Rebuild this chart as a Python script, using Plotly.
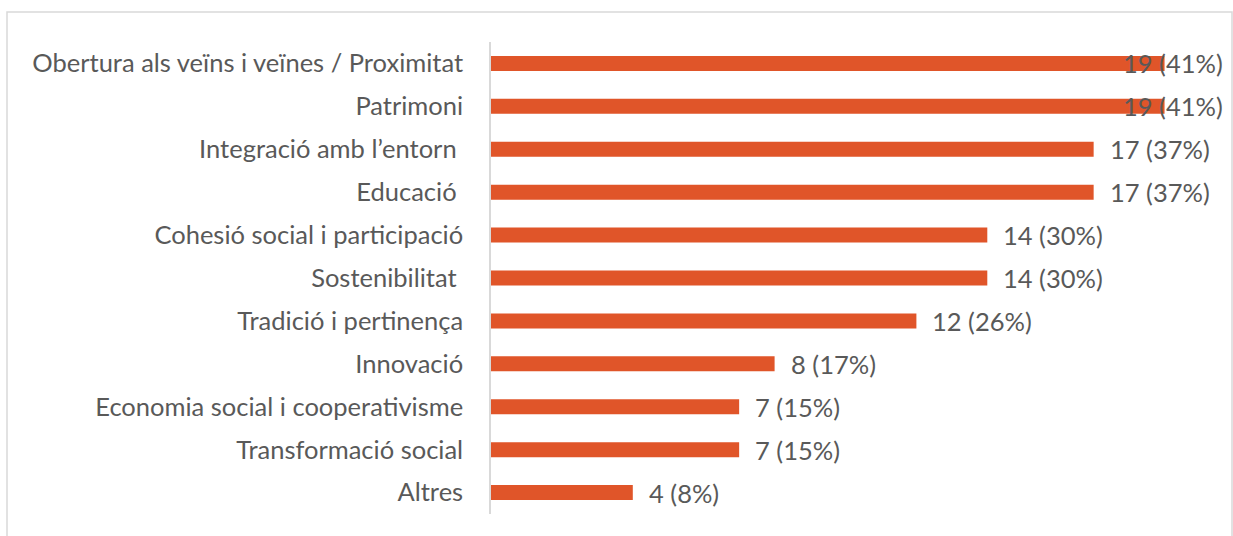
import plotly.graph_objects as go

categories = [
    "Obertura als veïns i veïnes / Proximitat",
    "Patrimoni",
    "Integració amb l’entorn ",
    "Educació ",
    "Cohesió social i participació",
    "Sostenibilitat ",
    "Tradició i pertinença",
    "Innovació",
    "Economia social i cooperativisme",
    "Transformació social",
    "Altres",
]
counts = [19, 19, 17, 17, 14, 14, 12, 8, 7, 7, 4]
percents = [41, 41, 37, 37, 30, 30, 26, 17, 15, 15, 8]

W, H = 1233, 536
L, R, T, B = 491, 33, 42, 22
pw = W - L - R
ph = H - T - B

bar_color = "#E05529"
text_color = "#595959"
font_family = "Lato, Open Sans, sans-serif"
fs = 25.5

fig = go.Figure()
fig.add_trace(go.Bar(
    x=counts,
    y=categories,
    orientation="h",
    marker=dict(color=bar_color, line=dict(width=0)),
    hoverinfo="skip",
))

max_c = max(counts)
for c, p, cat in zip(counts, percents, categories):
    label = f"{c} ({p}%)"
    if c == max_c:
        fig.add_annotation(x=c, y=cat, text=label, showarrow=False,
                           xanchor="right", xshift=60,
                           font=dict(size=fs, color=text_color, family=font_family))
    else:
        fig.add_annotation(x=c, y=cat, text=label, showarrow=False,
                           xanchor="left", xshift=14,
                           font=dict(size=fs, color=text_color, family=font_family))

def px_x(p):
    return (p - L) / pw

def px_y(p):
    return (H - B - p) / ph

fig.add_shape(type="rect", xref="paper", yref="paper",
              x0=px_x(7), x1=px_x(1232), y0=px_y(545), y1=px_y(12),
              line=dict(color="#D9D9D9", width=1.5), fillcolor="rgba(0,0,0,0)",
              layer="below")

fig.update_layout(
    width=W, height=H,
    margin=dict(l=L, r=R, t=T, b=B),
    paper_bgcolor="white", plot_bgcolor="white",
    showlegend=False,
    bargap=0.65,
    xaxis=dict(range=[0, 20], visible=False, fixedrange=True),
    yaxis=dict(
        categoryorder="array", categoryarray=categories[::-1],
        showline=True, linecolor="#D9D9D9", linewidth=1.5,
        ticks="", showgrid=False, zeroline=False, fixedrange=True,
        ticklabelstandoff=21,
        tickfont=dict(size=fs, color=text_color, family=font_family),
    ),
    font=dict(family=font_family, color=text_color),
)

fig.write_html("out.html", config={"displayModeBar": False},
               post_script="document.body.style.margin='0';document.body.style.overflow='hidden';")
